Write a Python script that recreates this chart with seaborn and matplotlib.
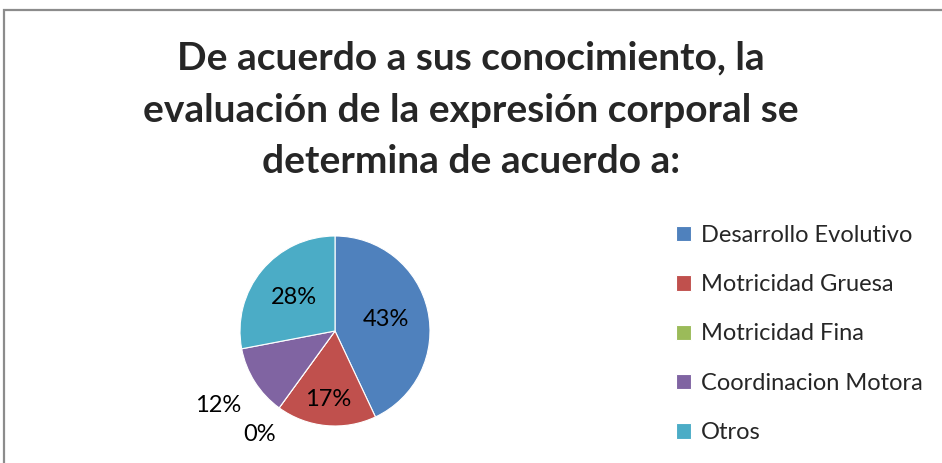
import matplotlib
matplotlib.use("Agg")
import matplotlib.pyplot as plt
import seaborn as sns
from matplotlib.patches import Rectangle
import numpy as np

# data
categorias = ["Desarrollo Evolutivo", "Motricidad Gruesa", "Motricidad Fina",
              "Coordinacion Motora", "Otros"]
porcentajes = [43, 17, 0, 12, 28]
colores = ["#4F81BD", "#C0504D", "#9BBB59", "#8064A2", "#4BACC6"]
titulo = ("De acuerdo a sus conocimiento, la\n"
          "evaluación de la expresión corporal se\n"
          "determina de acuerdo a:")

sns.set_theme(style="white")
plt.rcParams['font.family'] = ['Lato', 'DejaVu Sans']

fig = plt.figure(figsize=(9.42, 4.63), dpi=100)

# chart frame (runs off right and bottom edge like the screenshot)
fig.patches.append(Rectangle((4 / 942, -0.1), 1.1, 1 - 10.5 / 463 + 0.1,
                             transform=fig.transFigure, fill=False,
                             edgecolor="#8c8c8c", linewidth=1.6))

fig.text(0.5, 1 - 110 / 463, titulo, ha="center", va="center",
         fontsize=28, fontweight="bold", linespacing=1.58)

# pie axes: centre ~ (335, 331), radius ~95 px
r = 95
ax = fig.add_axes([(335 - r) / 942, (463 - 331 - r) / 463, 2 * r / 942, 2 * r / 463])
wedges, textos, autotextos = ax.pie(porcentajes, colors=colores, startangle=90,
                                    counterclock=False, autopct="%d%%",
                                    wedgeprops=dict(linewidth=0.8, edgecolor="white"),
                                    textprops=dict(fontsize=17, color="black"))
ax.set_aspect("auto")
ax.set_xlim(-1, 1)
ax.set_ylim(-1, 1)

# label distance per slice (best-fit placement)
distancias = [0.55, 0.72, 1.35, 1.46, 0.56]
for w, t, d in zip(wedges, autotextos, distancias):
    ang = np.deg2rad((w.theta1 + w.theta2) / 2)
    t.set_position((d * np.cos(ang), d * np.sin(ang)))
    t.set_clip_on(False)

leg = ax.legend(wedges, categorias, loc="center left", frameon=False, fontsize=17,
                handlelength=0.62, handleheight=0.62, handletextpad=0.45,
                labelspacing=1.2, borderpad=0, borderaxespad=0)
leg.set_bbox_to_anchor((676 / 942, 1 - 334 / 463), transform=fig.transFigure)

fig.savefig("out.png", dpi=100)
